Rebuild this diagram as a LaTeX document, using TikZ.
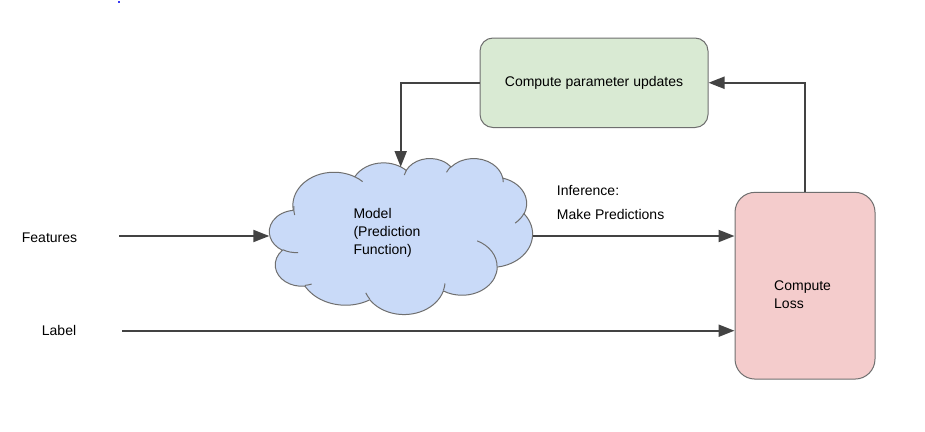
\documentclass[tikz,border=0pt]{standalone}
\usepackage{fontspec}
\setmainfont{Liberation Sans}
\usetikzlibrary{arrows.meta}

\definecolor{flow}{HTML}{434343}
\definecolor{edge}{HTML}{6F6F6F}
\definecolor{modelblue}{HTML}{C9DAF8}
\definecolor{updgreen}{HTML}{D9EAD3}
\definecolor{losspink}{HTML}{F4CCCC}
\definecolor{dotblue}{HTML}{3A3AF4}

% One arc of the cloud outline. #1,#2: radii; #3: start angle; #4: sweep.
% Angles are measured from the ellipse centre (visual angles) and are
% turned into the parametric angles that \pgfpatharc expects.
\newcommand\cloudarc[4]{%
  \pgfmathsetmacro\cloudta{atan2((#1)*sin(#3),(#2)*cos(#3))}%
  \pgfmathsetmacro\cloudtb{atan2((#1)*sin((#3)+(#4)),(#2)*cos((#3)+(#4)))}%
  \pgfmathsetmacro\cloudtd{(\cloudtb)-(\cloudta)}%
  \pgfmathsetmacro\cloudtd{(\cloudtd)+360*((\cloudtd)<0)}%
  \pgfmathsetmacro\cloudtb{(\cloudta)+(\cloudtd)}%
  \pgfpatharc{\cloudta}{\cloudtb}{#1pt and #2pt}%
}

\begin{document}
\begin{tikzpicture}[x=1pt, y=-1pt,
  every node/.style={font=\fontsize{14}{18}\selectfont, inner sep=0pt},
  card/.style={draw=edge, line width=1pt, rounded corners=#1, inner sep=0pt},
  flowline/.style={draw=flow, line width=2pt,
    -{Triangle[length=16pt,width=12pt]}},
  caption/.style={anchor=base west, align=left}]

\useasboundingbox (0,0) rectangle (925,431);
\fill[white] (0,0) rectangle (925,431);

% small blue mark at the top
\fill[dotblue] (118.3,0.6) rectangle (119.9,2.6);

% the model, drawn as a cloud in a 432 x 432 frame
\begin{scope}[shift={(269.5,158)}, xscale=263/432, yscale=-156/432]
  \pgfpathmoveto{\pgfpoint{39.00pt}{143.70pt}}
  \cloudarc{67.53}{91.90}{-190.4875}{123.7805}
  \cloudarc{53.33}{72.67}{-144.1024}{89.9452}
  \cloudarc{43.65}{59.45}{-145.8079}{99.7230}
  \cloudarc{48.57}{65.95}{-130.9861}{117.2417}
  \cloudarc{53.33}{72.73}{-78.7089}{109.0269}
  \cloudarc{67.75}{92.20}{-46.2673}{130.2690}
  \cloudarc{57.85}{78.67}{0.6250}{114.0333}
  \cloudarc{67.52}{92.15}{22.4516}{115.1726}
  \cloudarc{77.20}{105.43}{66.2426}{75.7110}
  \cloudarc{43.60}{59.18}{-274.9421}{146.7356}
  \cloudarc{43.45}{59.45}{-246.8285}{152.5189}
  \pgfpathclose
  \pgfsetfillcolor{modelblue}\pgfsetstrokecolor{edge}\pgfsetlinewidth{1pt}
  \pgfusepath{fill,stroke}
  % creases between the puffs
  \pgfpathmoveto{\pgfpoint{46.93pt}{261.77pt}}
  \cloudarc{43.45}{59.45}{86.7420}{26.4295}
  \pgfpathmoveto{\pgfpoint{69.28pt}{348.99pt}}
  \cloudarc{43.60}{59.18}{73.6105}{11.4475}
  \pgfpathmoveto{\pgfpoint{164.78pt}{390.90pt}}
  \cloudarc{67.52}{92.15}{137.6242}{14.0811}
  \pgfpathmoveto{\pgfpoint{288.27pt}{347.51pt}}
  \cloudarc{67.52}{92.15}{6.4533}{15.9984}
  \pgfpathmoveto{\pgfpoint{341.29pt}{229.54pt}}
  \cloudarc{57.85}{78.67}{-70.2924}{70.9174}
  \pgfpathmoveto{\pgfpoint{417.98pt}{153.54pt}}
  \cloudarc{53.33}{72.73}{30.3180}{27.7515}
  \pgfpathmoveto{\pgfpoint{383.24pt}{54.26pt}}
  \cloudarc{48.57}{65.95}{-13.7443}{14.8589}
  \pgfpathmoveto{\pgfpoint{290.78pt}{39.52pt}}
  \cloudarc{48.57}{65.95}{-149.1815}{18.1954}
  \pgfpathmoveto{\pgfpoint{221.41pt}{47.20pt}}
  \cloudarc{43.65}{59.45}{-163.4943}{17.6864}
  \pgfpathmoveto{\pgfpoint{140.00pt}{51.92pt}}
  \cloudarc{67.53}{91.90}{-66.7070}{12.3194}
  \pgfpathmoveto{\pgfpoint{41.27pt}{157.89pt}}
  \cloudarc{67.53}{91.90}{163.7342}{20.7365}
  \pgfusepath{stroke}
\end{scope}

% frame of the cloud, used for the connectors
\node[minimum width=263pt, minimum height=156pt] (model) at (401,236) {};

% boxes
\node[card=13pt, fill=updgreen, minimum width=228pt, minimum height=89.5pt]
  (upd) at (594,82.75) {Compute parameter updates};
\node[card=20pt, fill=losspink, minimum width=140pt, minimum height=186.7pt]
  (loss) at (805,285.7) {};

% texts (a multi-line caption sits on the baseline of its last line)
\node[caption] (feat) at (21.7,242) {Features};
\node[caption] (lab) at (41.7,335) {Label};
\node[caption] (modeltext) at (353.3,254.3) {Model\\(Prediction\\Function)};
\node[caption] (losstext) at (774,308.3) {Compute\\Loss};
\node[caption, font=\fontsize{14}{23.3}\selectfont] (infer) at (556.7,219)
  {Inference:\\Make Predictions};

% connectors
\coordinate (featout) at (119,236);
\coordinate (labout) at (122.3,330.7);
\coordinate (modelin) at (400.7,167);
\draw[flowline] (featout) -- (model.west);
\draw[flowline] (labout) -- (labout -| loss.west);
\draw[flowline] (model.east) -- (model.east -| loss.west);
\draw[flowline] (loss.north) |- (upd.east);
\draw[flowline] (upd.west) -| (modelin);
\end{tikzpicture}
\end{document}
